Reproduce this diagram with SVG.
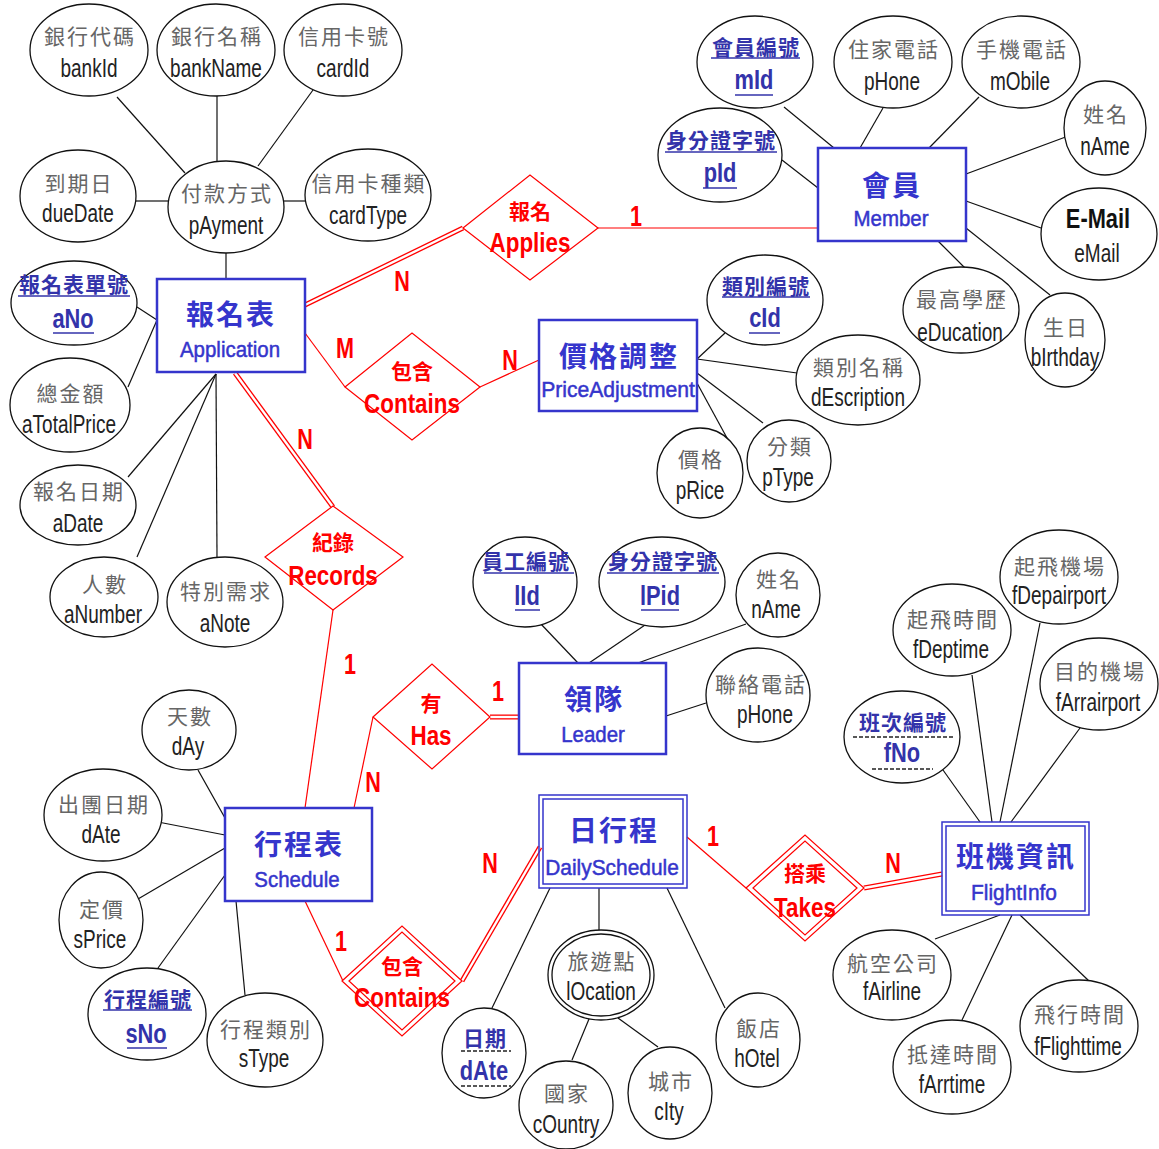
<svg xmlns="http://www.w3.org/2000/svg" width="1159" height="1149" viewBox="0 0 1159 1149">
<style>
.attr{fill:#fff;stroke:#111;stroke-width:1.3}
.ent{fill:#fff;stroke:#3535cc;stroke-width:2.5}
.ent2{fill:none;stroke:#3535cc;stroke-width:1.5}
.rel{fill:#fff;stroke:#f00;stroke-width:1.2}
.rel2{fill:none;stroke:#f00;stroke-width:1.2}
.ln{stroke:#111;stroke-width:1.2;fill:none}
.rl{stroke:#f00;stroke-width:1.2;fill:none}
.rd{stroke:#f00;stroke-width:5;fill:none}
.rdw{stroke:#fff;stroke-width:2.4;fill:none}
.cn{font-family:"Noto Sans CJK TC",sans-serif;font-size:21px;fill:#666;text-anchor:middle;letter-spacing:2px}
.kcn{font-family:"Noto Sans CJK TC",sans-serif;font-size:21px;fill:#3333aa;font-weight:bold;text-anchor:middle;letter-spacing:1px}
.en{font-family:"Liberation Sans",Arial,sans-serif;font-size:25px;fill:#222;text-anchor:middle}
.ken{font-family:"Liberation Sans",Arial,sans-serif;font-size:28px;font-weight:bold;fill:#3333aa;text-anchor:middle}
.bem{font-family:"Liberation Sans",Arial,sans-serif;font-size:28px;font-weight:bold;fill:#111;text-anchor:middle}
.ul{stroke:#3333aa;stroke-width:1.5}
.dl{stroke:#222;stroke-width:1.3;stroke-dasharray:4 2}
.ecn{font-family:"Noto Sans CJK TC",sans-serif;font-size:28px;fill:#3535cc;font-weight:bold;text-anchor:middle;letter-spacing:2px}
.een{font-family:"Liberation Sans",Arial,sans-serif;font-size:22px;fill:#3535cc;stroke:#3535cc;stroke-width:0.5;text-anchor:middle}
.rcn{font-family:"Noto Sans CJK TC",sans-serif;font-size:21px;fill:#f00;font-weight:bold;text-anchor:middle}
.ren{font-family:"Liberation Sans",Arial,sans-serif;font-size:28px;font-weight:bold;fill:#f00;text-anchor:middle}
.card{font-family:"Liberation Sans",Arial,sans-serif;font-size:30px;font-weight:bold;fill:#f00;text-anchor:middle}
</style>
<rect width="1159" height="1149" fill="#fff"/>

<g id="connectors">
<g class="ln">
<line x1="226" y1="253" x2="226" y2="279"/>
<line x1="117" y1="97" x2="185" y2="173"/>
<line x1="217" y1="96" x2="217" y2="161"/>
<line x1="313" y1="90" x2="258" y2="166"/>
<line x1="136" y1="201" x2="168" y2="201"/>
<line x1="284" y1="201" x2="305" y2="201"/>
<line x1="137" y1="307" x2="157" y2="320"/>
<line x1="128" y1="387" x2="157" y2="320"/>
<line x1="128" y1="477" x2="216" y2="374"/>
<line x1="137" y1="557" x2="216" y2="374"/>
<line x1="217" y1="557" x2="216" y2="374"/>
<line x1="784" y1="107" x2="834" y2="148"/>
<line x1="883" y1="108" x2="860" y2="148"/>
<line x1="979" y1="97" x2="929" y2="148"/>
<line x1="1071" y1="135" x2="966" y2="174"/>
<line x1="782" y1="160" x2="818" y2="188"/>
<line x1="966" y1="201" x2="1041" y2="228"/>
<line x1="938" y1="241" x2="965" y2="268"/>
<line x1="966" y1="228" x2="1050" y2="295"/>
<line x1="725" y1="333" x2="697" y2="359"/>
<line x1="697" y1="359" x2="797" y2="373"/>
<line x1="697" y1="373" x2="763" y2="423"/>
<line x1="697" y1="383" x2="727" y2="438"/>
<line x1="540" y1="623" x2="578" y2="663"/>
<line x1="648" y1="623" x2="589" y2="663"/>
<line x1="746" y1="624" x2="638" y2="663"/>
<line x1="706" y1="703" x2="666" y2="716"/>
<line x1="198" y1="770" x2="225" y2="818"/>
<line x1="158" y1="822" x2="225" y2="835"/>
<line x1="138" y1="899" x2="225" y2="848"/>
<line x1="158" y1="968" x2="225" y2="875"/>
<line x1="245" y1="995" x2="236" y2="901"/>
<line x1="492" y1="1008" x2="550" y2="888"/>
<line x1="599" y1="930" x2="599" y2="888"/>
<line x1="725" y1="1008" x2="667" y2="888"/>
<line x1="572" y1="1060" x2="589" y2="1019"/>
<line x1="658" y1="1047" x2="618" y2="1018"/>
<line x1="943" y1="770" x2="980" y2="822"/>
<line x1="972" y1="675" x2="992" y2="822"/>
<line x1="1040" y1="623" x2="1000" y2="822"/>
<line x1="1080" y1="728" x2="1011" y2="822"/>
<line x1="935" y1="939" x2="1000" y2="915"/>
<line x1="962" y1="1020" x2="1012" y2="915"/>
<line x1="1089" y1="981" x2="1020" y2="915"/>
</g>
<g class="rl">
<line x1="598" y1="228" x2="818" y2="228"/>
<line x1="305" y1="333" x2="345" y2="387"/>
<line x1="480" y1="387" x2="539" y2="360"/>
<line x1="333" y1="610" x2="305" y2="808"/>
<line x1="373" y1="717" x2="354" y2="808"/>
<line x1="305" y1="901" x2="343" y2="981"/>
<line x1="687" y1="837" x2="746" y2="888"/>
</g>
<g class="rd">
<line x1="305" y1="305" x2="463" y2="228"/>
<line x1="235" y1="373" x2="333" y2="507"/>
<line x1="490" y1="717" x2="519" y2="717"/>
<line x1="462" y1="981" x2="540" y2="847"/>
<line x1="864" y1="888" x2="942" y2="874"/>
</g>
<g class="rdw">
<line x1="305" y1="305" x2="463" y2="228"/>
<line x1="235" y1="373" x2="333" y2="507"/>
<line x1="490" y1="717" x2="519" y2="717"/>
<line x1="462" y1="981" x2="540" y2="847"/>
<line x1="864" y1="888" x2="942" y2="874"/>
</g>
<g>
<text class="card" transform="translate(402 291) scale(0.72 1)">N</text>
<text class="card" transform="translate(636 226) scale(0.72 1)">1</text>
<text class="card" transform="translate(345 358) scale(0.72 1)">M</text>
<text class="card" transform="translate(510 370) scale(0.72 1)">N</text>
<text class="card" transform="translate(305 449) scale(0.72 1)">N</text>
<text class="card" transform="translate(350 674) scale(0.72 1)">1</text>
<text class="card" transform="translate(498 701) scale(0.72 1)">1</text>
<text class="card" transform="translate(373 792) scale(0.72 1)">N</text>
<text class="card" transform="translate(341 951) scale(0.72 1)">1</text>
<text class="card" transform="translate(490 873) scale(0.72 1)">N</text>
<text class="card" transform="translate(713 846) scale(0.72 1)">1</text>
<text class="card" transform="translate(893 873) scale(0.72 1)">N</text>
</g>
</g>

<!-- Entities -->
<g id="application">
<rect class="ent" x="157" y="279" width="148" height="93"/>
<text class="ecn" x="231" y="325">報名表</text>
<text class="een" transform="translate(230 357) scale(0.93 1)">Application</text>
</g>
<g id="member">
<rect class="ent" x="818" y="148" width="148" height="93"/>
<text class="ecn" x="892" y="196">會員</text>
<text class="een" transform="translate(891 226) scale(0.93 1)">Member</text>
</g>
<g id="priceadjustment">
<rect class="ent" x="539" y="320" width="158" height="91"/>
<text class="ecn" x="619" y="367">價格調整</text>
<text class="een" transform="translate(618 397) scale(0.96 1)">PriceAdjustment</text>
</g>
<g id="leader">
<rect class="ent" x="519" y="663" width="147" height="91"/>
<text class="ecn" x="594" y="710">領隊</text>
<text class="een" transform="translate(593 742) scale(0.93 1)">Leader</text>
</g>
<g id="schedule">
<rect class="ent" x="225" y="808" width="147" height="93"/>
<text class="ecn" x="299" y="855">行程表</text>
<text class="een" transform="translate(297 887) scale(0.93 1)">Schedule</text>
</g>
<g id="dailyschedule">
<rect class="ent2" x="539" y="795" width="148" height="93" fill="#fff"/>
<rect class="ent2" x="543" y="799" width="140" height="85"/>
<text class="ecn" x="614" y="841">日行程</text>
<text class="een" transform="translate(612 875) scale(0.95 1)">DailySchedule</text>
</g>
<g id="flightinfo">
<rect class="ent2" x="942" y="822" width="147" height="93" fill="#fff"/>
<rect class="ent2" x="946" y="826" width="139" height="85"/>
<text class="ecn" x="1016" y="867">班機資訊</text>
<text class="een" transform="translate(1014 900) scale(0.95 1)">FlightInfo</text>
</g>

<!-- Relationships -->
<g id="rel-applies">
<polygon class="rel" points="463,228 530,175 598,228 530,280"/>
<text class="rcn" x="530" y="219">報名</text>
<text class="ren" transform="translate(530 252) scale(0.8 1)">Applies</text>
</g>
<g id="rel-contains1">
<polygon class="rel" points="345,387 412,333 480,387 412,440"/>
<text class="rcn" x="412" y="379">包含</text>
<text class="ren" transform="translate(412 413) scale(0.8 1)">Contains</text>
</g>
<g id="rel-records">
<polygon class="rel" points="265,557 333,506 403,557 333,610"/>
<text class="rcn" x="333" y="550">紀錄</text>
<text class="ren" transform="translate(333 585) scale(0.8 1)">Records</text>
</g>
<g id="rel-has">
<polygon class="rel" points="373,717 432,664 490,717 432,769"/>
<text class="rcn" x="431" y="711">有</text>
<text class="ren" transform="translate(431 745) scale(0.8 1)">Has</text>
</g>
<g id="rel-contains2">
<polygon class="rel" points="342,981 402,926 462,981 402,1036"/>
<polygon class="rel2" points="349,981 402,932 455,981 402,1030"/>
<text class="rcn" x="402" y="974">包含</text>
<text class="ren" transform="translate(402 1007) scale(0.8 1)">Contains</text>
</g>
<g id="rel-takes">
<polygon class="rel" points="746,888 805,835 864,888 805,941"/>
<polygon class="rel2" points="753,888 805,841 857,888 805,935"/>
<text class="rcn" x="805" y="881">搭乘</text>
<text class="ren" transform="translate(805 917) scale(0.8 1)">Takes</text>
</g>

<!-- Attributes: pAyment cluster -->
<g id="a-bankid"><ellipse class="attr" cx="89" cy="50" rx="59" ry="46"/><text class="cn" x="90" y="44">銀行代碼</text><text class="en" transform="translate(89 77) scale(0.76 1)">bankId</text></g>
<g id="a-bankname"><ellipse class="attr" cx="216" cy="50" rx="59" ry="46"/><text class="cn" x="217" y="44">銀行名稱</text><text class="en" transform="translate(216 77) scale(0.76 1)">bankName</text></g>
<g id="a-cardid"><ellipse class="attr" cx="343" cy="50" rx="59" ry="46"/><text class="cn" x="344" y="44">信用卡號</text><text class="en" transform="translate(343 77) scale(0.76 1)">cardId</text></g>
<g id="a-duedate"><ellipse class="attr" cx="78" cy="196" rx="58" ry="46"/><text class="cn" x="79" y="191">到期日</text><text class="en" transform="translate(78 222) scale(0.76 1)">dueDate</text></g>
<g id="a-payment"><ellipse class="attr" cx="226" cy="207" rx="58" ry="46"/><text class="cn" x="227" y="201">付款方式</text><text class="en" transform="translate(226 234) scale(0.76 1)">pAyment</text></g>
<g id="a-cardtype"><ellipse class="attr" cx="368" cy="195" rx="63" ry="46"/><text class="cn" x="369" y="191">信用卡種類</text><text class="en" transform="translate(368 224) scale(0.76 1)">cardType</text></g>

<!-- Application attributes -->
<g id="a-ano"><ellipse class="attr" cx="74" cy="303" rx="63" ry="42"/><text class="kcn" x="74" y="292">報名表單號</text><line class="ul" x1="18" y1="296" x2="130" y2="296"/><text class="ken" transform="translate(73 328) scale(0.78 1)">aNo</text><line class="ul" x1="53" y1="333" x2="94" y2="333"/></g>
<g id="a-atotalprice"><ellipse class="attr" cx="70" cy="405" rx="60" ry="47"/><text class="cn" x="71" y="401">總金額</text><text class="en" transform="translate(69 433) scale(0.76 1)">aTotalPrice</text></g>
<g id="a-adate"><ellipse class="attr" cx="78" cy="505" rx="58" ry="40"/><text class="cn" x="79" y="499">報名日期</text><text class="en" transform="translate(78 532) scale(0.76 1)">aDate</text></g>
<g id="a-anumber"><ellipse class="attr" cx="104" cy="597" rx="54" ry="40"/><text class="cn" x="105" y="592">人數</text><text class="en" transform="translate(103 623) scale(0.76 1)">aNumber</text></g>
<g id="a-anote"><ellipse class="attr" cx="225" cy="602" rx="58" ry="45"/><text class="cn" x="226" y="599">特別需求</text><text class="en" transform="translate(225 632) scale(0.76 1)">aNote</text></g>

<!-- Member attributes -->
<g id="a-mid"><ellipse class="attr" cx="755" cy="62" rx="58" ry="46"/><text class="kcn" x="756" y="55">會員編號</text><line class="ul" x1="711" y1="58" x2="800" y2="58"/><text class="ken" transform="translate(754 89) scale(0.78 1)">mId</text><line class="ul" x1="735" y1="95" x2="773" y2="95"/></g>
<g id="a-phone"><ellipse class="attr" cx="893" cy="62" rx="59" ry="46"/><text class="cn" x="894" y="57">住家電話</text><text class="en" transform="translate(892 90) scale(0.76 1)">pHone</text></g>
<g id="a-mobile"><ellipse class="attr" cx="1021" cy="62" rx="59" ry="46"/><text class="cn" x="1022" y="57">手機電話</text><text class="en" transform="translate(1020 90) scale(0.76 1)">mObile</text></g>
<g id="a-mname"><ellipse class="attr" cx="1105" cy="128" rx="41" ry="47"/><text class="cn" x="1106" y="122">姓名</text><text class="en" transform="translate(1105 155) scale(0.76 1)">nAme</text></g>
<g id="a-pid"><ellipse class="attr" cx="720" cy="155" rx="62" ry="47"/><text class="kcn" x="721" y="148">身分證字號</text><line class="ul" x1="665" y1="152" x2="777" y2="152"/><text class="ken" transform="translate(720 182) scale(0.78 1)">pId</text><line class="ul" x1="703" y1="188" x2="737" y2="188"/></g>
<g id="a-email"><ellipse class="attr" cx="1099" cy="234" rx="58" ry="46"/><text class="bem" transform="translate(1098 228) scale(0.78 1)">E-Mail</text><text class="en" transform="translate(1097 262) scale(0.76 1)">eMail</text></g>
<g id="a-education"><ellipse class="attr" cx="961" cy="310" rx="58" ry="43"/><text class="cn" x="962" y="307">最高學歷</text><text class="en" transform="translate(960 341) scale(0.76 1)">eDucation</text></g>
<g id="a-birthday"><ellipse class="attr" cx="1065" cy="340" rx="40" ry="47"/><text class="cn" x="1066" y="335">生日</text><text class="en" transform="translate(1065 366) scale(0.76 1)">bIrthday</text></g>

<!-- PriceAdjustment attributes -->
<g id="a-cid"><ellipse class="attr" cx="765" cy="300" rx="58" ry="45"/><text class="kcn" x="766" y="294">類別編號</text><line class="ul" x1="722" y1="297" x2="810" y2="297"/><text class="ken" transform="translate(765 327) scale(0.78 1)">cId</text><line class="ul" x1="749" y1="333" x2="780" y2="333"/></g>
<g id="a-description"><ellipse class="attr" cx="858" cy="380" rx="62" ry="45"/><text class="cn" x="859" y="375">類別名稱</text><text class="en" transform="translate(858 406) scale(0.76 1)">dEscription</text></g>
<g id="a-price"><ellipse class="attr" cx="700" cy="473" rx="43" ry="45"/><text class="cn" x="701" y="467">價格</text><text class="en" transform="translate(700 499) scale(0.76 1)">pRice</text></g>
<g id="a-ptype"><ellipse class="attr" cx="789" cy="461" rx="42" ry="41"/><text class="cn" x="790" y="454">分類</text><text class="en" transform="translate(788 486) scale(0.76 1)">pType</text></g>

<!-- Leader attributes -->
<g id="a-lid"><ellipse class="attr" cx="525" cy="582" rx="52" ry="45"/><text class="kcn" x="526" y="569">員工編號</text><line class="ul" x1="484" y1="573" x2="574" y2="573"/><text class="ken" transform="translate(527 605) scale(0.78 1)">lId</text><line class="ul" x1="515" y1="610" x2="540" y2="610"/></g>
<g id="a-lpid"><ellipse class="attr" cx="662" cy="582" rx="63" ry="45"/><text class="kcn" x="663" y="569">身分證字號</text><line class="ul" x1="607" y1="573" x2="719" y2="573"/><text class="ken" transform="translate(660 605) scale(0.78 1)">lPid</text><line class="ul" x1="641" y1="610" x2="679" y2="610"/></g>
<g id="a-lname"><ellipse class="attr" cx="778" cy="595" rx="42" ry="42"/><text class="cn" x="779" y="587">姓名</text><text class="en" transform="translate(776 618) scale(0.76 1)">nAme</text></g>
<g id="a-lphone"><ellipse class="attr" cx="758" cy="695" rx="52" ry="47"/><text class="cn" x="761" y="692">聯絡電話</text><text class="en" transform="translate(765 723) scale(0.76 1)">pHone</text></g>

<!-- FlightInfo attributes -->
<g id="a-fdepairport"><ellipse class="attr" cx="1059" cy="577" rx="59" ry="47"/><text class="cn" x="1060" y="574">起飛機場</text><text class="en" transform="translate(1059 604) scale(0.76 1)">fDepairport</text></g>
<g id="a-fdeptime"><ellipse class="attr" cx="952" cy="630" rx="59" ry="46"/><text class="cn" x="953" y="627">起飛時間</text><text class="en" transform="translate(951 658) scale(0.76 1)">fDeptime</text></g>
<g id="a-farrairport"><ellipse class="attr" cx="1099" cy="684" rx="59" ry="46"/><text class="cn" x="1100" y="679">目的機場</text><text class="en" transform="translate(1098 711) scale(0.76 1)">fArrairport</text></g>
<g id="a-fno"><ellipse class="attr" cx="902" cy="737" rx="58" ry="46"/><text class="kcn" x="903" y="730">班次編號</text><line class="dl" x1="853" y1="737" x2="953" y2="737"/><text class="ken" transform="translate(902 762) scale(0.78 1)">fNo</text><line class="dl" x1="872" y1="769" x2="933" y2="769"/></g>
<g id="a-fairline"><ellipse class="attr" cx="892" cy="975" rx="59" ry="45"/><text class="cn" x="893" y="971">航空公司</text><text class="en" transform="translate(892 1000) scale(0.76 1)">fAirline</text></g>
<g id="a-farrtime"><ellipse class="attr" cx="952" cy="1067" rx="59" ry="47"/><text class="cn" x="953" y="1062">抵達時間</text><text class="en" transform="translate(952 1093) scale(0.76 1)">fArrtime</text></g>
<g id="a-fflighttime"><ellipse class="attr" cx="1079" cy="1026" rx="59" ry="46"/><text class="cn" x="1080" y="1022">飛行時間</text><text class="en" transform="translate(1078 1055) scale(0.76 1)">fFlighttime</text></g>

<!-- Schedule attributes -->
<g id="a-day"><ellipse class="attr" cx="189" cy="730" rx="47" ry="40"/><text class="cn" x="190" y="724">天數</text><text class="en" transform="translate(188 755) scale(0.76 1)">dAy</text></g>
<g id="a-sdate"><ellipse class="attr" cx="103" cy="815" rx="59" ry="46"/><text class="cn" x="104" y="812">出團日期</text><text class="en" transform="translate(101 843) scale(0.76 1)">dAte</text></g>
<g id="a-sprice"><ellipse class="attr" cx="101" cy="920" rx="42" ry="48"/><text class="cn" x="102" y="917">定價</text><text class="en" transform="translate(100 948) scale(0.76 1)">sPrice</text></g>
<g id="a-sno"><ellipse class="attr" cx="147" cy="1014" rx="59" ry="46"/><text class="kcn" x="148" y="1007">行程編號</text><line class="ul" x1="103" y1="1010" x2="192" y2="1010"/><text class="ken" transform="translate(146 1043) scale(0.78 1)">sNo</text><line class="ul" x1="127" y1="1048" x2="167" y2="1048"/></g>
<g id="a-stype"><ellipse class="attr" cx="265" cy="1040" rx="58" ry="47"/><text class="cn" x="266" y="1037">行程類別</text><text class="en" transform="translate(264 1067) scale(0.76 1)">sType</text></g>

<!-- DailySchedule attributes -->
<g id="a-ddate"><ellipse class="attr" cx="484" cy="1053" rx="42" ry="45"/><text class="kcn" x="485" y="1046">日期</text><line class="dl" x1="461" y1="1051" x2="511" y2="1051"/><text class="ken" transform="translate(484 1080) scale(0.78 1)">dAte</text><line class="dl" x1="461" y1="1086" x2="511" y2="1086"/></g>
<g id="a-location"><ellipse class="attr" cx="601" cy="975" rx="53" ry="45"/><ellipse class="attr" cx="601" cy="975" rx="49" ry="41"/><text class="cn" x="602" y="969">旅遊點</text><text class="en" transform="translate(601 1000) scale(0.76 1)">lOcation</text></g>
<g id="a-country"><ellipse class="attr" cx="566" cy="1105" rx="47" ry="44"/><text class="cn" x="567" y="1101">國家</text><text class="en" transform="translate(566 1133) scale(0.76 1)">cOuntry</text></g>
<g id="a-city"><ellipse class="attr" cx="670" cy="1093" rx="42" ry="46"/><text class="cn" x="671" y="1089">城市</text><text class="en" transform="translate(669 1120) scale(0.76 1)">cIty</text></g>
<g id="a-hotel"><ellipse class="attr" cx="758" cy="1040" rx="42" ry="47"/><text class="cn" x="759" y="1036">飯店</text><text class="en" transform="translate(757 1067) scale(0.76 1)">hOtel</text></g>
</svg>
